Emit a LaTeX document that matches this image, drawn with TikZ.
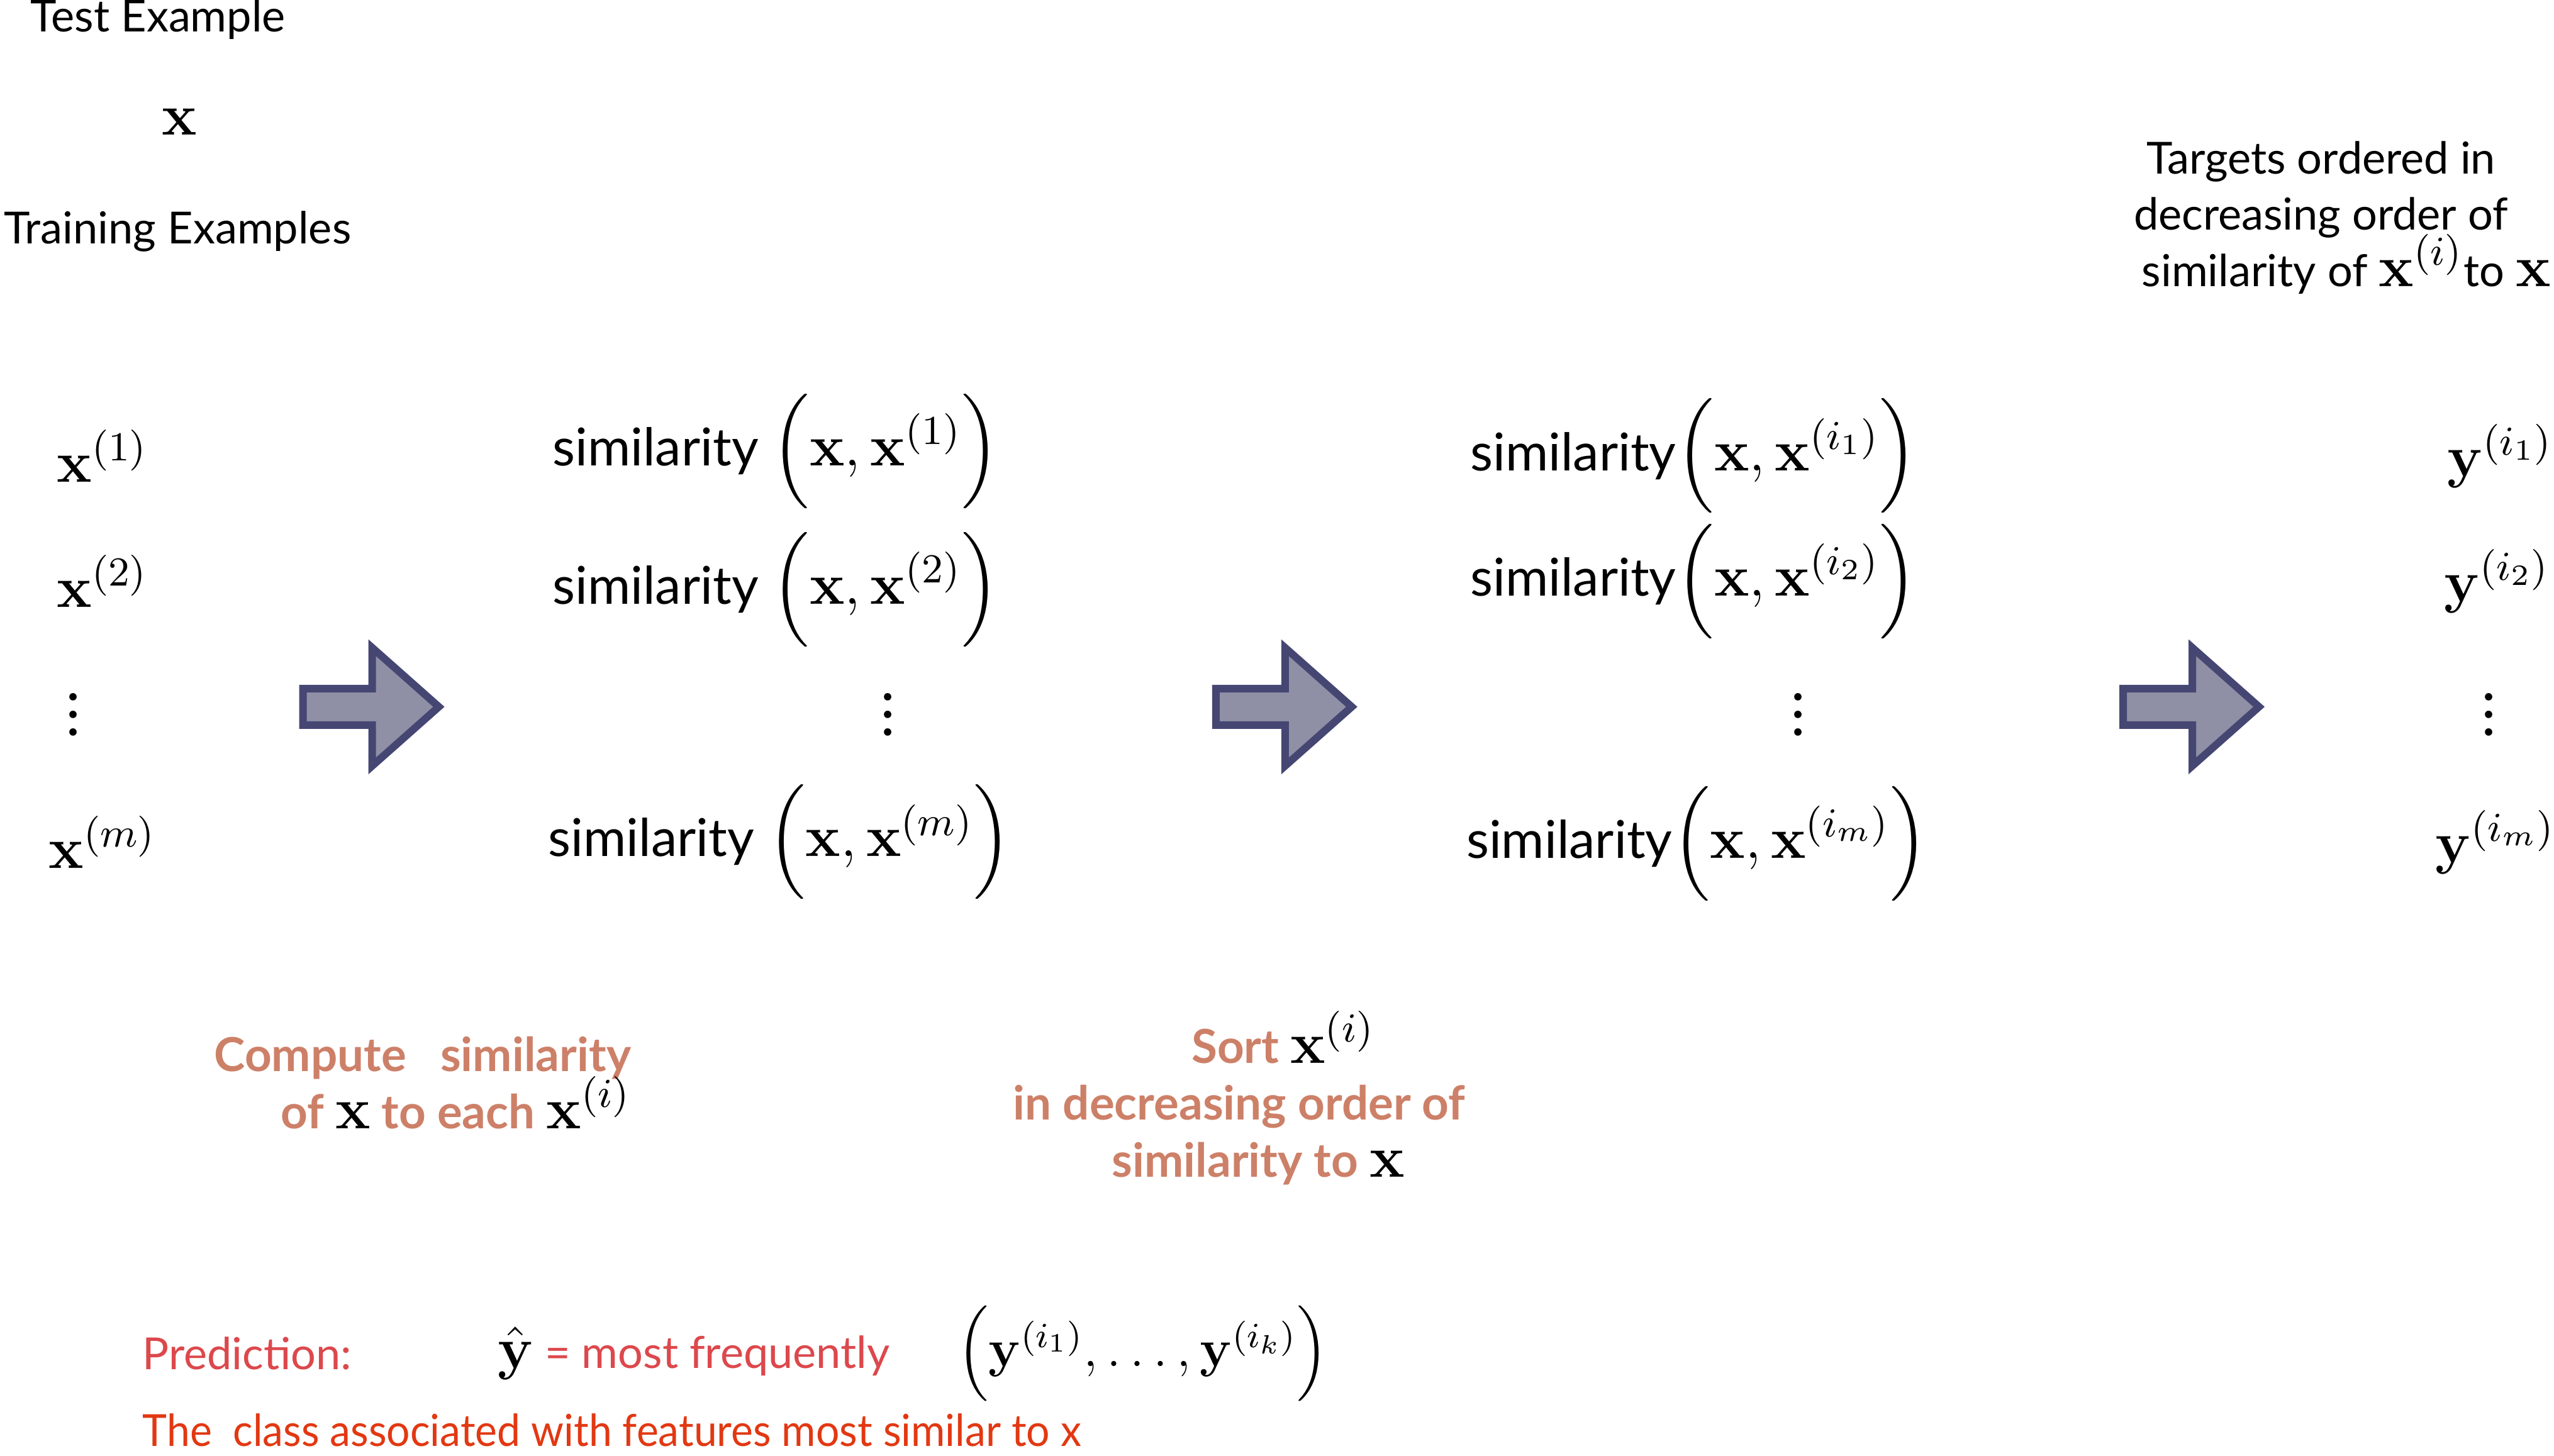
\RequirePackage{fix-cm}
\documentclass[tikz,border=0pt]{standalone}
\usepackage{amsmath}
\usepackage[no-math]{fontspec}
\setmainfont{Lato}
\usetikzlibrary{positioning}
\definecolor{salmon}{RGB}{205,128,104}
\definecolor{predred}{RGB}{220,72,76}
\definecolor{classred}{RGB}{226,56,18}
\definecolor{arrowfill}{RGB}{143,143,166}
\definecolor{arrowdraw}{RGB}{70,70,115}
\newcommand{\bigmath}[1]{{\color{black}\fontsize{13.3}{16}\selectfont$#1$}}
\newcommand{\tightlines}{\setlength{\lineskiplimit}{-20pt}}

\begin{document}
\begin{tikzpicture}[every node/.style={align=center, inner sep=0pt},
  txt/.style={font=\fontsize{10}{12.7}\selectfont\tightlines},
  simtxt/.style={font=\fontsize{11.8}{14}\selectfont},
  mth/.style={font=\fontsize{13.3}{16}\selectfont},
  note/.style={font=\fontsize{10.6}{12.9}\selectfont\bfseries\tightlines, text=salmon},
  bigarrow/.style={draw=arrowdraw, fill=arrowfill, line width=1.7pt, line join=miter}]
\useasboundingbox (0,0) rectangle (20.3,-11.574);
% header
\node[txt] (test) at (1.256,-0.155) {Test Example};
\node[mth] (xtest) at (1.424,-0.971) {$\mathbf{x}$};
\node[txt] (train) at (1.411,-1.838) {Training Examples};
\node[txt] (targets) at (18.448,-1.73) {Targets ordered in\\decreasing order of\\\hspace*{0.4cm}similarity of \bigmath{\mathbf{x}^{(i)}}to \bigmath{\mathbf{x}}};
% training examples
\node[mth] (x1) at (0.816,-3.625) {$\mathbf{x}^{(1)}$};
\node[mth] (x2) at (0.816,-4.622) {$\mathbf{x}^{(2)}$};
\node[mth] (xd) at (0.583,-5.575) {$\vdots$};
\node[mth] (xm) at (0.816,-6.693) {$\mathbf{x}^{(m)}$};
% similarities
\node[simtxt] (s1) at (6.169,-3.586) {similarity \bigmath{\Bigl(\mathbf{x},\mathbf{x}^{(1)}\Bigr)}};
\node[simtxt] (s2) at (6.169,-4.686) {similarity \bigmath{\Bigl(\mathbf{x},\mathbf{x}^{(2)}\Bigr)}};
\node[mth] (sd) at (7.056,-5.575) {$\vdots$};
\node[simtxt] (sm) at (6.200,-6.693) {similarity \bigmath{\Bigl(\mathbf{x},\mathbf{x}^{(m)}\Bigr)}};
% sorted similarities
\node[simtxt] (o1) at (13.464,-3.625) {similarity\bigmath{\Bigl(\mathbf{x},\mathbf{x}^{(i_1)}\Bigr)}};
\node[simtxt] (o2) at (13.464,-4.622) {similarity\bigmath{\Bigl(\mathbf{x},\mathbf{x}^{(i_2)}\Bigr)}};
\node[mth] (od) at (14.292,-5.575) {$\vdots$};
\node[simtxt] (om) at (13.490,-6.706) {similarity\bigmath{\Bigl(\mathbf{x},\mathbf{x}^{(i_m)}\Bigr)}};
% targets
\node[mth] (y1) at (19.872,-3.625) {$\mathbf{y}^{(i_1)}$};
\node[mth] (y2) at (19.846,-4.622) {$\mathbf{y}^{(i_2)}$};
\node[mth] (yd) at (19.782,-5.575) {$\vdots$};
\node[mth] (ym) at (19.833,-6.693) {$\mathbf{y}^{(i_m)}$};
% block arrows
\foreach \ax in {2.958,10.214,17.425}
  \draw[bigarrow, shift={(\ax,-5.619)}] (-0.55,0.145) -- (0,0.145) -- (0,0.47) -- (0.53,0)
    -- (0,-0.47) -- (0,-0.145) -- (-0.55,-0.145) -- cycle;
% step notes
\node[note, align=right, anchor=east] (compute) at (5.023,-8.609) {Compute~~ similarity\\of \bigmath{\mathbf{x}} to each \bigmath{\mathbf{x}^{(i)}}};
\node[note] (sort) at (9.85,-8.727) {\hspace*{0.7cm}Sort \bigmath{\mathbf{x}^{(i)}}\\in decreasing order of\\\hspace*{0.3cm}similarity to \bigmath{\mathbf{x}}};
% prediction
\node[txt, text=predred, anchor=west] (pred) at (1.126,-10.758) {Prediction:};
\node[txt, text=predred, anchor=west] (yhat) at (3.949,-10.758) {\bigmath{\hat{\mathbf{y}}} = most frequently};
\node[anchor=west, font=\fontsize{12}{15}\selectfont] (tuple) at (7.60,-10.758) {$\Bigl(\mathbf{y}^{(i_1)},\ldots,\mathbf{y}^{(i_k)}\Bigr)$};
\node[txt, text=classred, anchor=west] (class) at (1.126,-11.367) {\scalebox{0.94}[1]{The~ class associated with features most similar to x}};
\end{tikzpicture}
\end{document}
